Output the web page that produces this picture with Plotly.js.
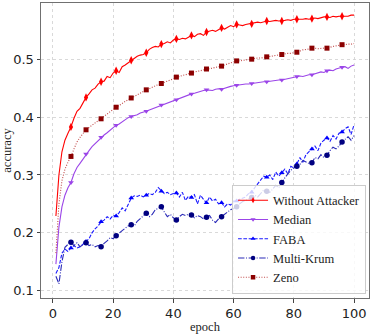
<!DOCTYPE html>
<html>
<head>
<meta charset="utf-8">
<script src="https://cdn.plot.ly/plotly-3.0.1.min.js"></script>
<style>
  html, body { margin: 0; padding: 0; background: #fff; }
  #chart { width: 374px; height: 334px; }
</style>
</head>
<body>
<div id="chart"></div>
<script>
// epochs 1..100
var epochs = [];
for (let i = 1; i <= 100; i++) epochs.push(i);

var withoutAttacker = [
  0.229, 0.300, 0.340, 0.360, 0.372, 0.383, 0.398, 0.410, 0.415, 0.425,
  0.434, 0.440, 0.447, 0.450, 0.457, 0.461, 0.462, 0.470, 0.468, 0.476,
  0.480, 0.477, 0.487, 0.490, 0.494, 0.498, 0.502, 0.505, 0.507, 0.508,
  0.511, 0.517, 0.520, 0.522, 0.521, 0.526, 0.527, 0.530, 0.528, 0.533,
  0.535, 0.534, 0.536, 0.535, 0.538, 0.541, 0.539, 0.543, 0.544, 0.541,
  0.547, 0.548, 0.550, 0.548, 0.551, 0.554, 0.552, 0.555, 0.558, 0.556,
  0.560, 0.559, 0.558, 0.560, 0.561, 0.561, 0.562, 0.564, 0.563, 0.565,
  0.566, 0.565, 0.566, 0.567, 0.566, 0.566, 0.567, 0.568, 0.567, 0.569,
  0.569, 0.568, 0.569, 0.570, 0.569, 0.570, 0.571, 0.570, 0.572, 0.573,
  0.573, 0.572, 0.574, 0.573, 0.574, 0.574, 0.575, 0.574, 0.576, 0.576
];

var median = [
  0.146, 0.210, 0.245, 0.265, 0.278, 0.287, 0.302, 0.313, 0.320, 0.328,
  0.336, 0.342, 0.349, 0.354, 0.360, 0.365, 0.369, 0.373, 0.377, 0.382,
  0.386, 0.388, 0.392, 0.396, 0.399, 0.401, 0.402, 0.404, 0.407, 0.408,
  0.410, 0.412, 0.414, 0.417, 0.419, 0.421, 0.422, 0.425, 0.426, 0.428,
  0.430, 0.432, 0.434, 0.436, 0.438, 0.440, 0.441, 0.443, 0.444, 0.446,
  0.447, 0.447, 0.446, 0.448, 0.449, 0.448, 0.450, 0.452, 0.453, 0.454,
  0.455, 0.455, 0.456, 0.457, 0.457, 0.458, 0.459, 0.459, 0.460, 0.461,
  0.461, 0.462, 0.462, 0.463, 0.464, 0.464, 0.465, 0.466, 0.468, 0.469,
  0.470, 0.471, 0.470, 0.472, 0.473, 0.473, 0.475, 0.477, 0.478, 0.477,
  0.480, 0.481, 0.480, 0.483, 0.485, 0.486, 0.487, 0.484, 0.488, 0.490
];

var faba = [
  0.130, 0.140, 0.165, 0.172, 0.168, 0.174, 0.178, 0.174, 0.176, 0.180,
  0.185, 0.190, 0.200, 0.207, 0.212, 0.219, 0.222, 0.228, 0.224, 0.230,
  0.229, 0.235, 0.243, 0.238, 0.250, 0.260, 0.264, 0.263, 0.265, 0.262,
  0.265, 0.268, 0.266, 0.270, 0.278, 0.272, 0.268, 0.270, 0.266, 0.268,
  0.269, 0.262, 0.270, 0.256, 0.263, 0.261, 0.266, 0.250, 0.265, 0.258,
  0.252, 0.262, 0.255, 0.258, 0.250, 0.252, 0.245, 0.250, 0.248, 0.255,
  0.255, 0.258, 0.260, 0.262, 0.268, 0.270, 0.278, 0.285, 0.290, 0.298,
  0.296, 0.300, 0.292, 0.305, 0.298, 0.304, 0.310, 0.302, 0.315, 0.312,
  0.319, 0.330, 0.322, 0.335, 0.340, 0.345, 0.350, 0.342, 0.355, 0.360,
  0.364, 0.358, 0.368, 0.362, 0.372, 0.374, 0.380, 0.383, 0.370, 0.387
];

var multiKrum = [
  0.125, 0.112, 0.150, 0.175, 0.180, 0.184, 0.178, 0.183, 0.176, 0.180,
  0.183, 0.178, 0.180, 0.176, 0.178, 0.176, 0.182, 0.186, 0.192, 0.190,
  0.195, 0.200, 0.204, 0.208, 0.212, 0.214, 0.212, 0.220, 0.225, 0.230,
  0.234, 0.228, 0.232, 0.240, 0.243, 0.245, 0.236, 0.228, 0.232, 0.226,
  0.222, 0.228, 0.232, 0.230, 0.232, 0.231, 0.226, 0.230, 0.228, 0.224,
  0.227, 0.230, 0.222, 0.218, 0.224, 0.228, 0.232, 0.236, 0.240, 0.242,
  0.245, 0.250, 0.254, 0.256, 0.258, 0.261, 0.265, 0.262, 0.268, 0.274,
  0.272, 0.270, 0.276, 0.282, 0.278, 0.287, 0.295, 0.302, 0.308, 0.312,
  0.315, 0.318, 0.325, 0.322, 0.320, 0.321, 0.330, 0.328, 0.335, 0.330,
  0.334, 0.342, 0.348, 0.345, 0.350, 0.357, 0.362, 0.366, 0.360, 0.368
];

var zeno = [
  0.165, 0.250, 0.290, 0.310, 0.322, 0.332, 0.345, 0.357, 0.365, 0.372,
  0.378, 0.382, 0.386, 0.390, 0.394, 0.397, 0.401, 0.405, 0.409, 0.413,
  0.417, 0.420, 0.424, 0.427, 0.430, 0.433, 0.436, 0.439, 0.442, 0.445,
  0.447, 0.449, 0.452, 0.454, 0.456, 0.458, 0.460, 0.463, 0.465, 0.467,
  0.469, 0.470, 0.472, 0.473, 0.475, 0.476, 0.478, 0.479, 0.480, 0.481,
  0.483, 0.484, 0.485, 0.486, 0.487, 0.488, 0.490, 0.492, 0.494, 0.495,
  0.497, 0.497, 0.498, 0.499, 0.499, 0.500, 0.501, 0.502, 0.502, 0.503,
  0.504, 0.505, 0.506, 0.506, 0.507, 0.508, 0.509, 0.510, 0.510, 0.511,
  0.512, 0.514, 0.516, 0.517, 0.518, 0.519, 0.519, 0.518, 0.519, 0.519,
  0.519, 0.521, 0.522, 0.523, 0.524, 0.525, 0.525, 0.526, 0.526, 0.527
];

var seriesNames = ['Without Attacker', 'Median', 'FABA', 'Multi-Krum', 'Zeno'];
var seriesData = [withoutAttacker, median, faba, multiKrum, zeno];
var lineColors = ['#ff0000', '#9b45e8', '#1a1aff', '#2a2ab8', '#c04848'];
var markerColors = ['#ff0000', '#9b45e8', '#0000ff', '#000080', '#8b0000'];
var dashes = ['solid', 'solid', '3.7px,1.6px', '6.4px,1.6px,1px,1.6px', '1px,1.6px'];
var symbols = ['diamond-tall', 'triangle-down', 'triangle-up', 'circle', 'square'];
var markerSizes = [6, 5, 5, 5.5, 5];

// markers every 5 epochs, starting at epoch 6
var every = (arr) => arr.filter((_, i) => i > 0 && i % 5 === 0);

var traces = [];
for (let s = 0; s < seriesNames.length; s++) {
    traces.push({
        x: epochs, y: seriesData[s], type: 'scatter', mode: 'lines',
        line: { color: lineColors[s], width: 1.1, dash: dashes[s] },
        showlegend: false, hoverinfo: 'skip'
    });
    traces.push({
        x: every(epochs), y: every(seriesData[s]), type: 'scatter', mode: 'markers',
        marker: { color: markerColors[s], symbol: symbols[s], size: markerSizes[s] },
        showlegend: false
    });
}
// legend entries only
for (let s = 0; s < seriesNames.length; s++) {
    traces.push({
        x: [null], y: [null], type: 'scatter', mode: 'lines+markers',
        name: seriesNames[s],
        line: { color: lineColors[s], width: 1.1, dash: dashes[s] },
        marker: { color: markerColors[s], symbol: symbols[s], size: 4.5 }
    });
}

var serif = '"Liberation Serif", "Times New Roman", serif';

var layout = {
    width: 374,
    height: 334,
    margin: { l: 41, r: 5, t: 3, b: 36 },
    paper_bgcolor: '#ffffff',
    plot_bgcolor: '#ffffff',
    font: { family: 'DejaVu Sans, sans-serif', size: 13, color: '#222' },
    xaxis: {
        range: [-3.95, 104.95],
        tickvals: [0, 20, 40, 60, 80, 100],
        showgrid: true, gridcolor: '#cfcfcf', griddash: 'dot', gridwidth: 0.8,
        zeroline: false,
        showline: true, linecolor: '#707070', linewidth: 1, mirror: true,
        ticks: 'outside', ticklen: 3.5, tickcolor: '#444',
        title: { text: 'epoch', font: { family: serif, size: 12.5, color: '#222' }, standoff: 4 }
    },
    yaxis: {
        range: [0.0875, 0.597],
        tickvals: [0.1, 0.2, 0.3, 0.4, 0.5],
        ticktext: ['0.1', '0.2', '0.3', '0.4', '0.5'],
        showgrid: true, gridcolor: '#cfcfcf', griddash: 'dot', gridwidth: 0.8,
        zeroline: false,
        showline: true, linecolor: '#707070', linewidth: 1, mirror: true,
        ticks: 'outside', ticklen: 3.5, tickcolor: '#444',
        title: { text: 'accuracy', font: { family: serif, size: 12.5, color: '#222' }, standoff: 6 }
    },
    legend: {
        x: 0.991, y: 0.015, xanchor: 'right', yanchor: 'bottom',
        bgcolor: 'rgba(255,255,255,0.8)',
        bordercolor: '#cccccc', borderwidth: 1,
        font: { family: serif, size: 12.5, color: '#222' },
        tracegroupgap: 0
    },
    showlegend: true
};

Plotly.newPlot('chart', traces, layout, { displayModeBar: false, staticPlot: true });
</script>
</body>
</html>
